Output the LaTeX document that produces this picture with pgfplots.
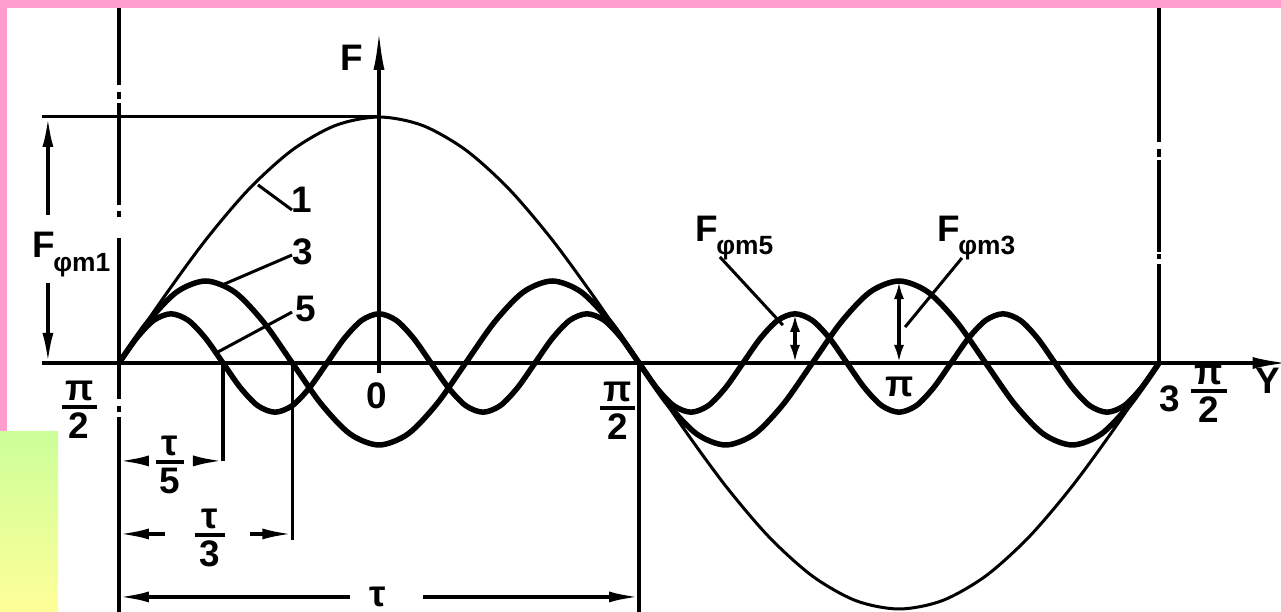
\documentclass[border=0pt]{standalone}
\usepackage{amsmath}
\usepackage{fontspec}
\setmainfont{Liberation Sans}
\usepackage{pgfplots}
\pgfplotsset{compat=1.18}
\usetikzlibrary{arrows.meta}

\definecolor{bandpink}{RGB}{255,158,206}
\definecolor{boxgreen}{RGB}{204,255,153}
\definecolor{boxyellow}{RGB}{255,255,153}

\newcommand{\lab}{\fontsize{10.5}{12}\selectfont\bfseries}
\newcommand{\sub}{\fontsize{7.5}{9}\selectfont\bfseries}
% stacked fraction with a heavy bar
\newcommand{\fr}[3][0.95em]{$\genfrac{}{}{0.4mm}{1}{\makebox[#1]{#2}}{\makebox[#1]{#3}}$}

\tikzset{
  lbl/.style={font=\lab, inner sep=0pt},
  axisline/.style={line width=0.35mm, black},
  guide/.style={line width=0.4mm, black},
  rule/.style={line width=0.35mm, black},
  leader/.style={line width=0.3mm, black},
  dimarrow/.style={line width=0.35mm, black, -{Latex[length=3mm,width=1.1mm]}},
  dbl/.style={{Latex[length=1.8mm,width=1mm]}-{Latex[length=1.8mm,width=1mm]}},
}

\begin{document}
\begin{tikzpicture}[x=0.1mm,y=0.1mm]
\path[use as bounding box, clip] (0,0) rectangle (1281,612);
\fill[white] (0,0) rectangle (1281,612);
\fill[bandpink] (0,604) rectangle (1281,612);
\fill[bandpink] (0,180) rectangle (7,612);
\shade[top color=boxgreen, bottom color=boxyellow] (0,0) rectangle (58,180);

\begin{axis}[
  at={(0,0)}, anchor=south west,
  scale only axis, width=128.1mm, height=61.2mm,
  xmin=-131.19, xmax=312.23, ymin=-1.0122, ymax=1.4756,
  axis lines=none, clip=false,
]

% fundamental, third and fifth harmonic of the MMF
\addplot[black, line width=0.3mm, smooth] coordinates {
(-90,0) (-75,0.2588) (-60,0.5) (-45,0.7071) (-30,0.8660) (-15,0.9659) (0,1)
(15,0.9659) (30,0.8660) (45,0.7071) (60,0.5) (75,0.2588) (90,0)
(105,-0.2588) (120,-0.5) (135,-0.7071) (150,-0.8660) (165,-0.9659) (180,-1)
(195,-0.9659) (210,-0.8660) (225,-0.7071) (240,-0.5) (255,-0.2588) (270,0)};

\addplot[black, line width=0.55mm, smooth] coordinates {
(-90,0) (-80,0.1667) (-70,0.2887) (-60,0.3333) (-50,0.2887) (-40,0.1667)
(-30,0) (-20,-0.1667) (-10,-0.2887) (0,-0.3333) (10,-0.2887) (20,-0.1667)
(30,0) (40,0.1667) (50,0.2887) (60,0.3333) (70,0.2887) (80,0.1667)
(90,0) (100,-0.1667) (110,-0.2887) (120,-0.3333) (130,-0.2887) (140,-0.1667)
(150,0) (160,0.1667) (170,0.2887) (180,0.3333) (190,0.2887) (200,0.1667)
(210,0) (220,-0.1667) (230,-0.2887) (240,-0.3333) (250,-0.2887) (260,-0.1667)
(270,0)};

\addplot[black, line width=0.55mm, smooth] coordinates {
(-90,0) (-84,0.1) (-78,0.1732) (-72,0.2) (-66,0.1732) (-60,0.1)
(-54,0) (-48,-0.1) (-42,-0.1732) (-36,-0.2) (-30,-0.1732) (-24,-0.1)
(-18,0) (-12,0.1) (-6,0.1732) (0,0.2) (6,0.1732) (12,0.1)
(18,0) (24,-0.1) (30,-0.1732) (36,-0.2) (42,-0.1732) (48,-0.1)
(54,0) (60,0.1) (66,0.1732) (72,0.2) (78,0.1732) (84,0.1)
(90,0) (96,-0.1) (102,-0.1732) (108,-0.2) (114,-0.1732) (120,-0.1)
(126,0) (132,0.1) (138,0.1732) (144,0.2) (150,0.1732) (156,0.1)
(162,0) (168,-0.1) (174,-0.1732) (180,-0.2) (186,-0.1732) (192,-0.1)
(198,0) (204,0.1) (210,0.1732) (216,0.2) (222,0.1732) (228,0.1)
(234,0) (240,-0.1) (246,-0.1732) (252,-0.2) (258,-0.1732) (264,-0.1)
(270,0)};

% axes
\draw[axisline, -{Latex[length=3.5mm,width=1.2mm]}] (-116.7,0) -- (314.5,0);
\draw[axisline, -{Latex[length=4mm,width=1.1mm]}] (0,-0.041) -- (0,1.354);
\node[lbl, anchor=base west] at (-13.5,1.191) {F};
\node[lbl, anchor=east] at (312.0,-0.073) {Y};

% dash-dot lines at the ends of the period
\draw[guide] (-90,1.443) -- (-90,1.130) (-90,1.102) -- (-90,1.073)
  (-90,1.057) -- (-90,0.642) (-90,0.618) -- (-90,0.593)
  (-90,0.508) -- (-90,-0.146) (-90,-0.175) -- (-90,-0.199)
  (-90,-0.220) -- (-90,-1.03);
\draw[guide] (270,1.443) -- (270,0.898) (270,0.870) -- (270,0.837)
  (270,0.825) -- (270,0.451) (270,0.443) -- (270,0.423)
  (270,0.402) -- (270,0);

% amplitude of the fundamental
\draw[leader] (-116.7,1) -- (0,1);
\draw[rule, -{Latex[length=3mm,width=1.1mm]}] (-114.6,0.602) -- (-114.6,1);
\draw[rule, -{Latex[length=3mm,width=1.1mm]}] (-114.6,0.325) -- (-114.6,0);
\node[lbl, anchor=base west] at (-120.1,0.427) {F\kern-0.2mm\raisebox{-1.4mm}{\sub φm1}};

% angle labels
\node[lbl] at (-103.8,-0.191) {\fr{π}{2}};
\node[lbl] at (-0.7,-0.134) {0};
\node[lbl] at (82.7,-0.195) {\fr{π}{2}};
\node[lbl] at (180.3,-0.098) {π};
\node[lbl] at (273.8,-0.146) {3};
\node[lbl] at (287.3,-0.126) {\fr{π}{2}};

% pole pitch and its fractions
\draw[rule] (-54,0) -- (-54,-0.398);
\draw[rule] (-30,0) -- (-30,-0.72);
\draw[rule] (90,0) -- (90,-1.03);
\draw[dimarrow] (-81.0,-0.398) -- (-90,-0.398);
\draw[dimarrow] (-63.3,-0.398) -- (-54,-0.398);
\node[lbl] at (-72.3,-0.414) {\fr[0.75em]{τ}{5}};
\draw[dimarrow] (-74.1,-0.695) -- (-90,-0.695);
\draw[dimarrow] (-44.7,-0.695) -- (-30,-0.695);
\node[lbl] at (-58.5,-0.711) {\fr[0.8em]{τ}{3}};
\draw[dimarrow] (-10.0,-0.951) -- (-90,-0.951);
\draw[dimarrow] (15.2,-0.951) -- (90,-0.951);
\node[lbl] at (-0.35,-0.951) {τ};

% harmonic numbers
\draw[leader] (-41.9,0.724) -- (-30.1,0.622);
\node[lbl] at (-26.7,0.663) {1};
\draw[leader] (-54.3,0.317) -- (-30.1,0.439);
\node[lbl] at (-26.3,0.451) {3};
\draw[leader] (-55.7,0.045) -- (-30.1,0.207);
\node[lbl] at (-25.3,0.220) {5};

% amplitudes of the 5th and 3rd harmonics
\draw[rule, dbl] (144,0.2) -- (144,0);
\draw[leader] (118.0,0.431) -- (139.8,0.154);
\node[lbl, anchor=base west] at (109.4,0.492) {F\kern-0.2mm\raisebox{-1.3mm}{\sub φm5}};
\draw[rule, dbl] (180,0.3333) -- (180,0);
\draw[leader] (201.8,0.427) -- (182.1,0.146);
\node[lbl, anchor=base west] at (193.2,0.492) {F\kern-0.2mm\raisebox{-1.3mm}{\sub φm3}};

\end{axis}
\end{tikzpicture}
\end{document}
